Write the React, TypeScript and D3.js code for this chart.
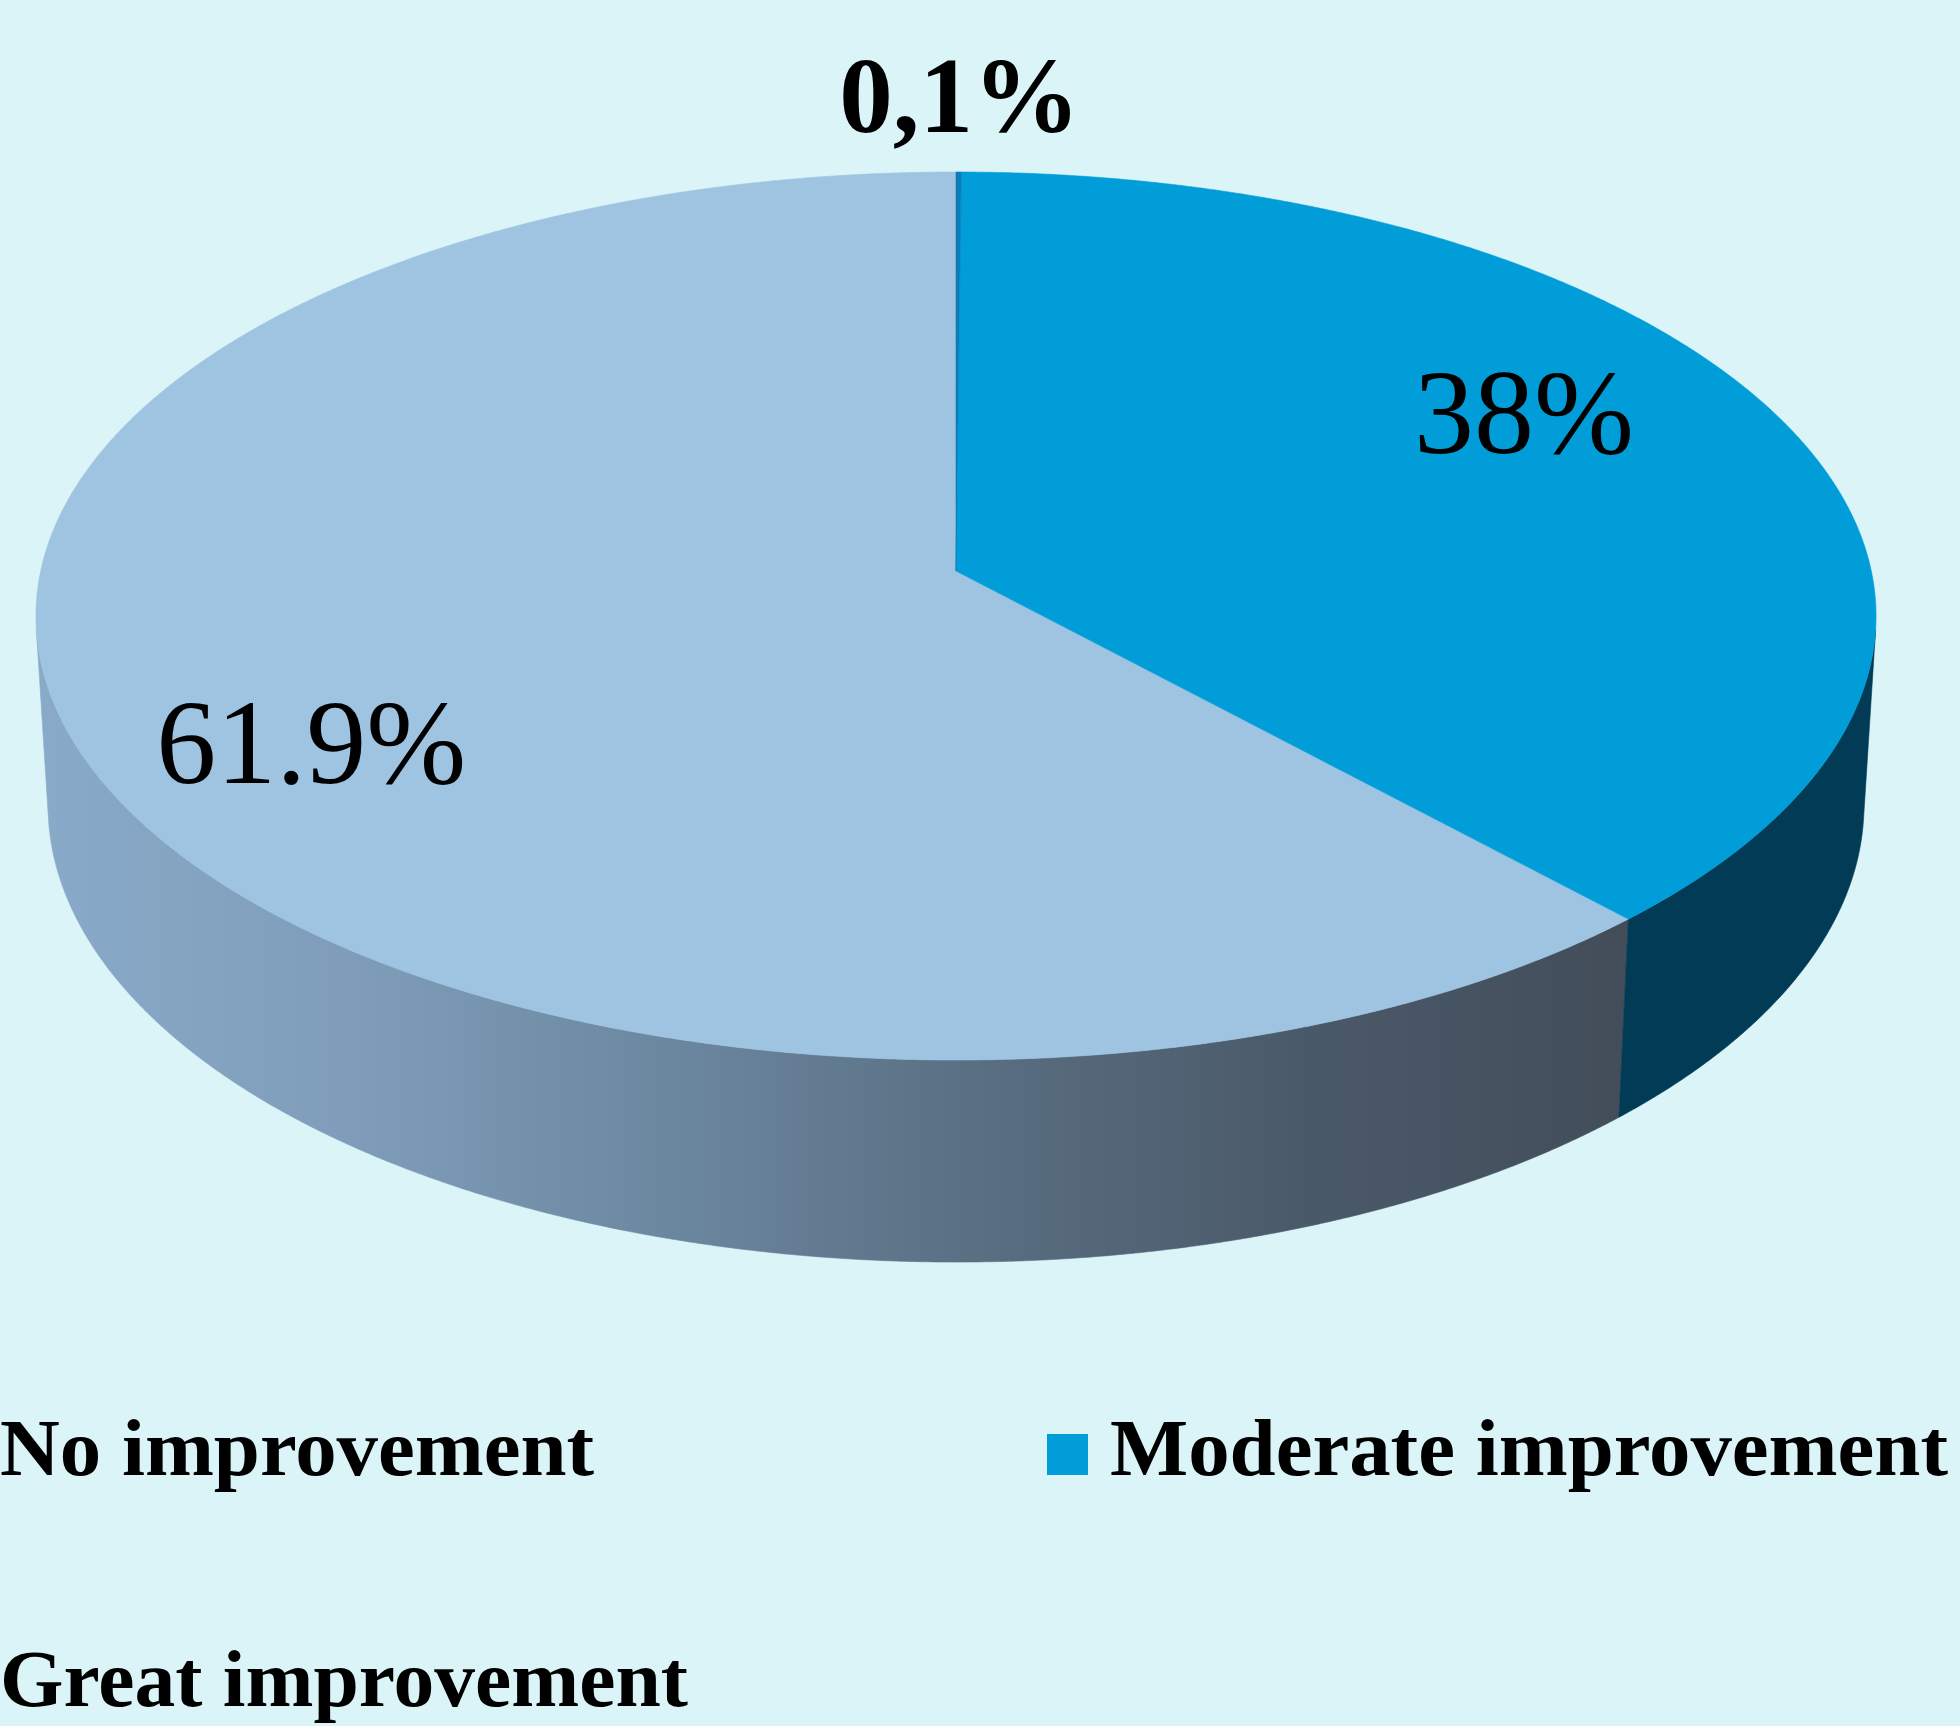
import React from 'react';
import * as d3 from 'd3';

// ---------- data ----------
const categories = ['No improvement', 'Moderate improvement', 'Great improvement'];
const values = [61.9, 38, 0.1];
const valueLabels = ['61.9%', '38%', '0,1%'];

// ---------- style / layout ----------
const WIDTH = 1960;
const HEIGHT = 1726;
const BG = '#DAF4F8';
const topColors = ['#9EC4E1', '#009DD9', '#0A7DB8'];
const wallFills = ['url(#wallNo)', '#023B55', '#05506E'];

// perspective camera for the 3D disc (unit radius)
const CAM = { cx: 956, cy: 571, f: 7921, d: 8.654, sinE: 0.4801, depth: 0.2375 };
const cosE = Math.sqrt(1 - CAM.sinE * CAM.sinE);

function project(angle: number, r: number, z: number): [number, number] {
  const u = r * Math.sin(angle);
  const v = -r * Math.cos(angle);
  const Z = CAM.d - v * cosE + z * CAM.sinE;
  return [CAM.cx + (CAM.f * u) / Z, CAM.cy + (CAM.f * (v * CAM.sinE + z * cosE)) / Z];
}

function arcPoints(a0: number, a1: number, z: number): [number, number][] {
  const n = Math.max(2, Math.ceil(Math.abs(a1 - a0) / 0.004));
  const pts: [number, number][] = [];
  for (let i = 0; i <= n; i++) pts.push(project(a0 + ((a1 - a0) * i) / n, 1, z));
  return pts;
}

const labelLayout = [
  { r: 0.736, dx: 0, dy: 91, size: 120, weight: 400 },
  { r: 0.6825, dx: 0, dy: -12, size: 120, weight: 400 },
  { r: 1.0, dx: 1, dy: -40, size: 107, weight: 700 },
];

const legendCols = [-63, 1047];
const legendRows = [1475, 1706];
const legendSlots = [
  { col: 0, row: 0 },
  { col: 1, row: 0 },
  { col: 0, row: 1 },
];
const legendTextWidths = [594, 838, 688];
const MARK = 41;
const TEXT_GAP = 63;

const line = d3
  .line<[number, number]>()
  .x((p) => p[0])
  .y((p) => p[1])
  .curve(d3.curveLinearClosed);

export default function App() {
  const pie = d3
    .pie<number>()
    .sort(null)
    .startAngle(0)
    .endAngle(-2 * Math.PI);
  const arcs = pie(values);

  // visible wall range (tangent generators of the cylinder)
  const vt = 1 / (CAM.d * cosE);
  const vis0 = Math.acos(-vt);
  const vis1 = 2 * Math.PI - vis0;

  const walls = arcs.map((a, i) => {
    let lo = Math.min(a.startAngle, a.endAngle);
    let hi = Math.max(a.startAngle, a.endAngle);
    if (lo < 0) {
      lo += 2 * Math.PI;
      hi += 2 * Math.PI;
    }
    const s = Math.max(lo, vis0);
    const e = Math.min(hi, vis1);
    if (e <= s) return null;
    const top = arcPoints(s, e, 0);
    const bottom = arcPoints(e, s, CAM.depth);
    return { i, d: line([...top, ...bottom]) as string };
  });

  const tops = arcs.map((a, i) => {
    const pts = [project(0, 0, 0), ...arcPoints(a.startAngle, a.endAngle, 0)];
    return { i, d: line(pts) as string };
  });

  const labels = arcs.map((a, i) => {
    const mid = (a.startAngle + a.endAngle) / 2;
    const L = labelLayout[i];
    const [x, y] = project(mid, L.r, 0);
    return { i, x: x + L.dx, y: y + L.dy, L };
  });

  return (
    <svg
      width={WIDTH}
      height={HEIGHT}
      viewBox={`0 0 ${WIDTH} ${HEIGHT}`}
      style={{ position: 'absolute', left: 0, top: 0, display: 'block' }}
    >
      <defs>
        <linearGradient id="wallNo" gradientUnits="userSpaceOnUse" x1={35} y1={0} x2={1625} y2={0}>
          <stop offset="0" stopColor="#89AAC9" />
          <stop offset="0.2" stopColor="#7F9DBA" />
          <stop offset="0.4" stopColor="#6B87A0" />
          <stop offset="0.6" stopColor="#596E81" />
          <stop offset="0.8" stopColor="#4A5969" />
          <stop offset="1" stopColor="#434D5A" />
        </linearGradient>
      </defs>
      <rect x={0} y={0} width={WIDTH} height={HEIGHT} fill={BG} />

      <g>
        {walls.map((w) =>
          w ? <path key={`w${w.i}`} d={w.d} fill={wallFills[w.i]} stroke={wallFills[w.i]} strokeWidth={0.6} /> : null
        )}
      </g>
      <g>
        {tops.map((t) => (
          <path key={`t${t.i}`} d={t.d} fill={topColors[t.i]} stroke={topColors[t.i]} strokeWidth={0.6} />
        ))}
      </g>

      <g fontFamily="'Liberation Serif', 'DejaVu Serif', serif" fill="#000">
        {labels.map((l) => (
          <text
            key={`l${l.i}`}
            x={l.x}
            y={l.y}
            textAnchor="middle"
            fontSize={l.L.size}
            fontWeight={l.L.weight}
          >
            {valueLabels[l.i]}
          </text>
        ))}
      </g>

      <g fontFamily="'Liberation Serif', 'DejaVu Serif', serif" fontWeight={700} fontSize={80} fill="#000">
        {categories.map((c, i) => {
          const slot = legendSlots[i];
          const mx = legendCols[slot.col];
          const by = legendRows[slot.row];
          return (
            <g key={`lg${i}`}>
              <rect x={mx} y={by - MARK} width={MARK} height={MARK} fill={topColors[i]} />
              <text
                x={mx + TEXT_GAP}
                y={by}
                textLength={legendTextWidths[i]}
                lengthAdjust="spacingAndGlyphs"
              >
                {c}
              </text>
            </g>
          );
        })}
      </g>
    </svg>
  );
}
